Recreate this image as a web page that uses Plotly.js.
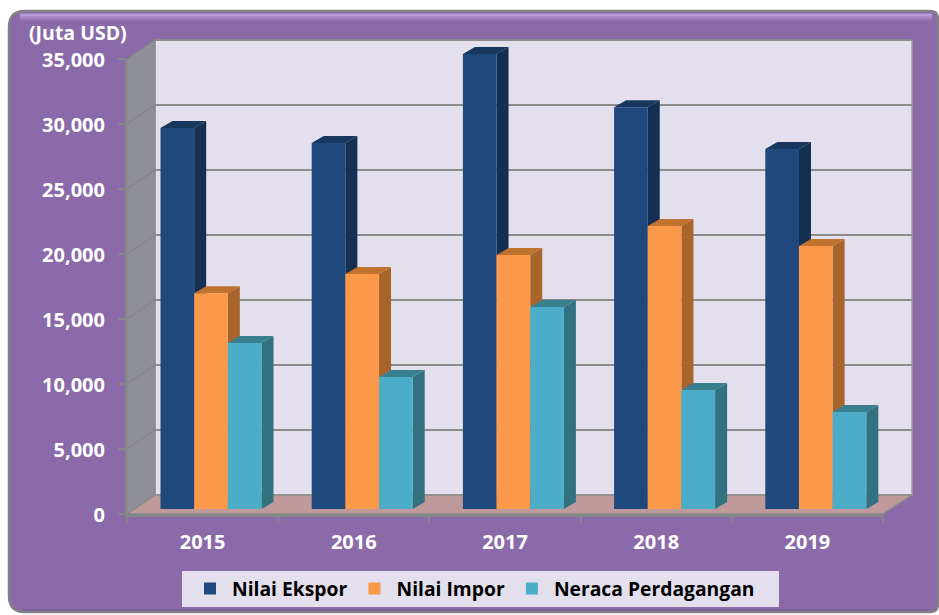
<!DOCTYPE html>
<html><head><meta charset="utf-8">
<script src="https://cdn.plot.ly/plotly-3.0.1.min.js"></script>
<style>html,body{margin:0;padding:0;background:#fff}#c{width:939px;height:615px}</style>
</head><body><div id="c"></div>
<script>
const years = ['2015','2016','2017','2018','2019'];
const ekspor = [29300,28150,35000,30900,27700];
const impor = [16600,18080,19540,21770,20230];
const neraca = [12770,10150,15540,9150,7460];
const yTicks = [0,5000,10000,15000,20000,25000,30000,35000];
const seriesNames = ['Nilai Ekspor','Nilai Impor','Neraca Perdagangan'];
const faceColors = ['#1F487C','#FB9849','#4BADC8'];
const sideColors = ['#142F52','#A8652B','#317180'];
const topColors = ['#17375F','#C0722F','#38808F'];

const W=939,H=615;
const X=p=>p/W, Y=p=>1-p/H;
const catPx=151.2, pxPerUnit=0.013;
const left=127,right=883,base=514,top35=59,backDx=28,backDy=19;
const gap=0.332, bw=(1-gap)/3;
const dX=12/catPx, dY=7/pxPerUnit;

const paperPoly=(pts,fill,line,lw,layer)=>({type:'path',xref:'paper',yref:'paper',layer:layer||'below',
  path:'M'+pts.map(p=>X(p[0])+','+Y(p[1])).join('L')+'Z',fillcolor:fill,line:{color:line||fill,width:lw===undefined?0:lw}});
const paperLine=(x0,y0,x1,y1,c,w)=>({type:'line',xref:'paper',yref:'paper',layer:'below',x0:X(x0),y0:Y(y0),x1:X(x1),y1:Y(y1),line:{color:c,width:w}});

const shapes=[];
// frame with rounded corners
const fx0=9,fx1=938,fy0=11,fy1=612,r=16;
const framePath=`M${X(fx0+r)},${Y(fy0)}L${X(fx1-8)},${Y(fy0)}Q${X(fx1)},${Y(fy0)} ${X(fx1)},${Y(fy0+8)}L${X(fx1)},${Y(fy1-8)}Q${X(fx1)},${Y(fy1)} ${X(fx1-8)},${Y(fy1)}L${X(fx0+r)},${Y(fy1)}Q${X(fx0)},${Y(fy1)} ${X(fx0)},${Y(fy1-r)}L${X(fx0)},${Y(fy0+r)}Q${X(fx0)},${Y(fy0)} ${X(fx0+r)},${Y(fy0)}Z`;
shapes.push({type:'path',xref:'paper',yref:'paper',layer:'below',path:framePath,fillcolor:'#8A6AA9',line:{color:'#858088',width:2.5}});
shapes.push(paperLine(20,19.5,932,19.5,'#9777B5',2));
shapes.push(paperLine(20,17.5,932,17.5,'#A88CC8',2));
shapes.push(paperLine(20,15,932,15,'#B59BD6',3));
shapes.push(paperLine(22,610,928,610,'#7C5F99',2));
// legend panel
shapes.push(paperPoly([[182,571],[779,571],[779,607],[182,607]],'#E3DFED'));
// walls
shapes.push(paperPoly([[155,40],[912,40],[912,495],[155,495]],'#E3DFED','#A0A0A0',1.5));
shapes.push(paperPoly([[left,top35],[155,40],[155,495],[left,base]],'#8F8F98','#868686',1));
shapes.push(paperPoly([[left,base],[right,base],[912,495],[155,495]],'#BE9A9A','#8A8A8A',1.5));
yTicks.slice(1).forEach(v=>{
  const py=base-v*pxPerUnit;
  shapes.push(paperLine(155,py-backDy,912,py-backDy,'#8C8C8C',2));
  shapes.push(paperLine(left,py,155,py-backDy,'#868686',1.5));
});
// bar depth faces
[ekspor,impor,neraca].forEach((vals,s)=>{
  vals.forEach((v,i)=>{
    const x0=i-(1-gap)/2+s*bw, x1=x0+bw;
    shapes.push({type:'path',xref:'x2',yref:'y2',layer:'below',
      path:`M${x1},0L${x1+dX},${dY}L${x1+dX},${v+dY}L${x1},${v}Z`,fillcolor:sideColors[s],line:{width:0}});
    shapes.push({type:'path',xref:'x2',yref:'y2',layer:'below',
      path:`M${x0},${v}L${x1},${v}L${x1+dX},${v+dY}L${x0+dX},${v+dY}Z`,fillcolor:topColors[s],line:{width:0}});
  });
});

const traces=[ekspor,impor,neraca].map((vals,s)=>({
  type:'bar',name:seriesNames[s],x:years,y:vals,xaxis:'x2',yaxis:'y2',
  marker:{color:faceColors[s],line:{width:0}},hoverinfo:'x+y+name'
}));
// carries the front axes (ticks and labels), draws nothing itself
traces.unshift({type:'scatter',mode:'none',x:years,y:ekspor,xaxis:'x',yaxis:'y',showlegend:false,hoverinfo:'skip'});

const axFont={family:'"Open Sans",sans-serif',size:20,color:'#FFFFFF',weight:'bold'};
const layout={
  width:W,height:H,margin:{l:0,r:0,t:0,b:0},paper_bgcolor:'#FFFFFF',plot_bgcolor:'rgba(0,0,0,0)',
  barmode:'group',bargap:gap,bargroupgap:0,showlegend:true,
  xaxis:{type:'category',categoryorder:'array',categoryarray:years,domain:[X(left),X(right)],range:[-0.5,4.5],
    anchor:'y',tickmode:'array',tickvals:years,ticktext:years,tickson:'boundaries',ticks:'outside',ticklen:6,tickwidth:2,tickcolor:'#868686',
    ticklabelstandoff:8,showline:true,linecolor:'#868686',linewidth:2.5,showgrid:false,zeroline:false,tickfont:axFont,fixedrange:true},
  yaxis:{domain:[Y(base),Y(top35)],range:[0,35000],anchor:'x',tickmode:'array',tickvals:yTicks,ticktext:yTicks.map(v=>v.toLocaleString('en-US')),
    ticks:'outside',ticklen:7,tickwidth:1.5,tickcolor:'#868686',ticklabelstandoff:9,ticklabelshift:1,showline:true,linecolor:'#868686',linewidth:2,showgrid:false,zeroline:false,
    tickfont:axFont,fixedrange:true},
  xaxis2:{type:'category',categoryorder:'array',categoryarray:years,anchor:'y2',domain:[X(135.4),X(925.4)],range:[-0.5,-0.5+790/catPx],
    visible:false,fixedrange:true},
  yaxis2:{anchor:'x2',domain:[Y(509),Y(30)],range:[0,479/pxPerUnit],visible:false,fixedrange:true},
  shapes:shapes,
  annotations:[{xref:'paper',yref:'paper',x:X(27),y:Y(32.5),xanchor:'left',yanchor:'middle',showarrow:false,text:'(Juta USD)',
    font:{family:'"Open Sans",sans-serif',size:19.5,color:'#FFFFFF',weight:'bold'}}],
  legend:{orientation:'h',x:X(188),y:Y(589),xanchor:'left',yanchor:'middle',bgcolor:'rgba(0,0,0,0)',traceorder:'normal',itemwidth:34,
    font:{family:'"Open Sans",sans-serif',size:19.3,color:'#000000',weight:'bold'}}
};
Plotly.newPlot('c',traces,layout,{staticPlot:true,displayModeBar:false});
</script></body></html>
